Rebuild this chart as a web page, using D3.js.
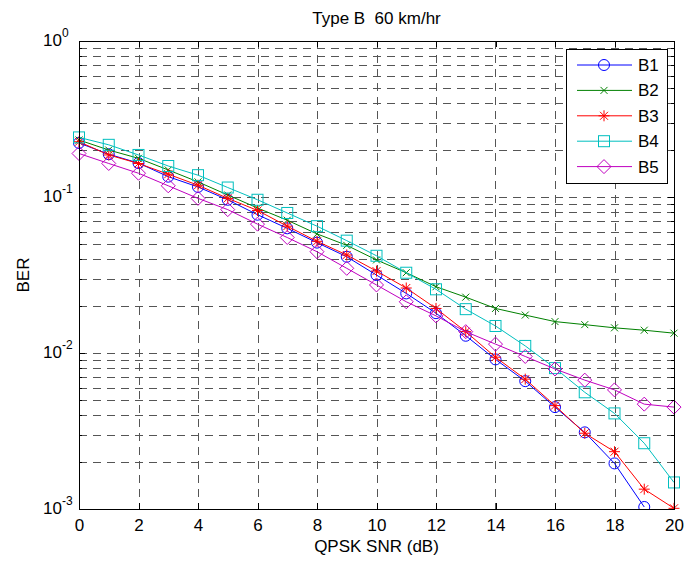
<!DOCTYPE html>
<html><head><meta charset="utf-8">
<script src="https://cdn.jsdelivr.net/npm/d3@7"></script>
<style>
body{margin:0;background:#fff;}
text{font-family:"Liberation Sans",Arial,Helvetica,sans-serif;fill:#000;white-space:pre;}
</style></head>
<body><svg id="c" width="685" height="565"></svg>
<script>
const snr = d3.range(0, 21);
const seriesNames = ["B1","B2","B3","B4","B5"];
const B1 = [0.222,0.188,0.165,0.135,0.116,0.096,0.077,0.063,0.051,0.0414,0.0316,0.0241,0.018,0.0129,0.0091,0.0066,0.0045,0.0031,0.00196,0.00103];
const B2 = [0.232,0.200,0.177,0.149,0.125,0.103,0.085,0.071,0.058,0.049,0.0395,0.0327,0.0266,0.0228,0.0193,0.0175,0.0159,0.0152,0.0145,0.0140,0.0134];
const B3 = [0.226,0.186,0.164,0.140,0.119,0.098,0.082,0.065,0.052,0.0425,0.0335,0.0261,0.0193,0.0137,0.0094,0.0068,0.0046,0.00306,0.00233,0.00134,0.00101];
const B4 = [0.241,0.216,0.186,0.158,0.138,0.115,0.096,0.079,0.065,0.0525,0.042,0.0327,0.0256,0.0191,0.0149,0.0111,0.0080,0.0056,0.0041,0.00264,0.00148];
const B5 = [0.190,0.164,0.142,0.118,0.098,0.083,0.067,0.055,0.0446,0.0349,0.0273,0.0213,0.0173,0.0137,0.0114,0.0095,0.0079,0.0067,0.0058,0.0047,0.0045];
const xTicks = [0,2,4,6,8,10,12,14,16,18,20];
const yDecades = [1, 0.1, 0.01, 0.001];
const yExponents = ["0","-1","-2","-3"];
const titleText = "Type B  60 km/hr";
const xLabel = "QPSK SNR (dB)";
const yLabel = "BER";

const colors = ["#0000ff","#008000","#ff0000","#00bfbf","#bf00bf"];
const markers = ["circle","x","star","square","diamond"];
const allSeries = [B1,B2,B3,B4,B5];

const L = 79, T = 41, R = 674, Bt = 509;
const svg = d3.select("#c");
const x = d3.scaleLinear().domain([0,20]).range([L,R]);
const y = d3.scaleLog().domain([0.001,1]).range([Bt,T]);

const minor = [];
[0.001,0.01,0.1].forEach(d => { for (let k=2;k<=9;k++) minor.push(d*k); });

// grid
const grid = svg.append("g").attr("stroke","#555").attr("stroke-width",1).attr("stroke-dasharray","8,6").attr("shape-rendering","crispEdges");
xTicks.forEach(v => grid.append("line").attr("x1",Math.round(x(v))+0.5).attr("x2",Math.round(x(v))+0.5).attr("y1",T).attr("y2",Bt));
yDecades.concat(minor).forEach(v => grid.append("line").attr("y1",Math.round(y(v))+0.5).attr("y2",Math.round(y(v))+0.5).attr("x1",L).attr("x2",R));

// data
svg.append("clipPath").attr("id","clip").append("rect").attr("x",L-8).attr("y",T-8).attr("width",R-L+16).attr("height",Bt-T+8);
const plot = svg.append("g").attr("clip-path","url(#clip)");
const lineGen = d3.line().x((d,i)=>x(snr[i])).y(d=>y(d));

function drawMarker(g, type, cx, cy, col){
  if (type==="circle") g.append("circle").attr("cx",cx).attr("cy",cy).attr("r",5.5).attr("fill","none").attr("stroke",col);
  else if (type==="square") g.append("rect").attr("x",cx-5.5).attr("y",cy-5.5).attr("width",11).attr("height",11).attr("fill","none").attr("stroke",col);
  else if (type==="diamond") g.append("path").attr("d",`M${cx},${cy-7}L${cx+7},${cy}L${cx},${cy+7}L${cx-7},${cy}Z`).attr("fill","none").attr("stroke",col);
  else if (type==="x") { const s=3.5; g.append("path").attr("d",`M${cx-s},${cy-s}L${cx+s},${cy+s}M${cx-s},${cy+s}L${cx+s},${cy-s}`).attr("stroke",col).attr("fill","none"); }
  else if (type==="star") { const s=5.5, t=4; g.append("path").attr("d",`M${cx-s},${cy}L${cx+s},${cy}M${cx},${cy-s}L${cx},${cy+s}M${cx-t},${cy-t}L${cx+t},${cy+t}M${cx-t},${cy+t}L${cx+t},${cy-t}`).attr("stroke",col).attr("fill","none"); }
}

allSeries.forEach((vals,si) => {
  const g = plot.append("g");
  g.append("path").attr("d", lineGen(vals)).attr("fill","none").attr("stroke",colors[si]).attr("stroke-width",1);
  vals.forEach((v,i) => drawMarker(g, markers[si], x(snr[i]), y(v), colors[si]));
});

// axes
const axG = svg.append("g").attr("shape-rendering","crispEdges");
function styleAxis(g){ g.select(".domain").remove(); g.selectAll("line").attr("stroke","#000"); }
axG.append("g").attr("transform",`translate(0,${Bt})`).call(d3.axisBottom(x).tickValues(xTicks).tickSize(-6).tickPadding(10).tickFormat(d3.format("d")))
  .call(styleAxis).selectAll("text").attr("font-size",17).attr("font-family","Liberation Sans, Arial, sans-serif");
axG.append("g").attr("transform",`translate(0,${T})`).call(d3.axisTop(x).tickValues(xTicks).tickSize(-6).tickFormat("")).call(styleAxis);
axG.append("g").attr("transform",`translate(${L},0)`).call(d3.axisLeft(y).tickValues(yDecades).tickSize(-6).tickFormat("")).call(styleAxis);
axG.append("g").attr("transform",`translate(${L},0)`).call(d3.axisLeft(y).tickValues(minor).tickSize(-3).tickFormat("")).call(styleAxis);
axG.append("g").attr("transform",`translate(${R},0)`).call(d3.axisRight(y).tickValues(yDecades).tickSize(-6).tickFormat("")).call(styleAxis);
axG.append("g").attr("transform",`translate(${R},0)`).call(d3.axisRight(y).tickValues(minor).tickSize(-3).tickFormat("")).call(styleAxis);
axG.append("rect").attr("x",L+0.5).attr("y",T+0.5).attr("width",R-L).attr("height",Bt-T).attr("fill","none").attr("stroke","#000").attr("stroke-width",1);

// y tick labels with superscripts
yDecades.forEach((v,i) => {
  const t = svg.append("text").attr("x",43).attr("y",y(v)+5).attr("font-size",17);
  t.append("tspan").text("10");
  t.append("tspan").attr("dy",-9).attr("font-size",12).text(yExponents[i]);
});

// title & labels
svg.append("text").attr("x",(L+R)/2).attr("y",24).attr("text-anchor","middle").attr("font-size",17).attr("xml:space","preserve").text(titleText);
svg.append("text").attr("x",(L+R)/2).attr("y",552).attr("text-anchor","middle").attr("font-size",17).text(xLabel);
svg.append("text").attr("transform",`translate(29,${(T+Bt)/2}) rotate(-90)`).attr("text-anchor","middle").attr("font-size",17).text(yLabel);

// legend
const lg = svg.append("g");
lg.append("rect").attr("x",566.5).attr("y",49.5).attr("width",101).attr("height",134).attr("fill","#fff").attr("stroke","#000");
seriesNames.forEach((n,i) => {
  const cy = 65 + i*25.4;
  lg.append("line").attr("x1",577).attr("x2",632).attr("y1",cy).attr("y2",cy).attr("stroke",colors[i]);
  drawMarker(lg, markers[i], 604, cy, colors[i]);
  lg.append("text").attr("x",638).attr("y",cy+6).attr("font-size",17).text(n);
});
</script></body></html>
